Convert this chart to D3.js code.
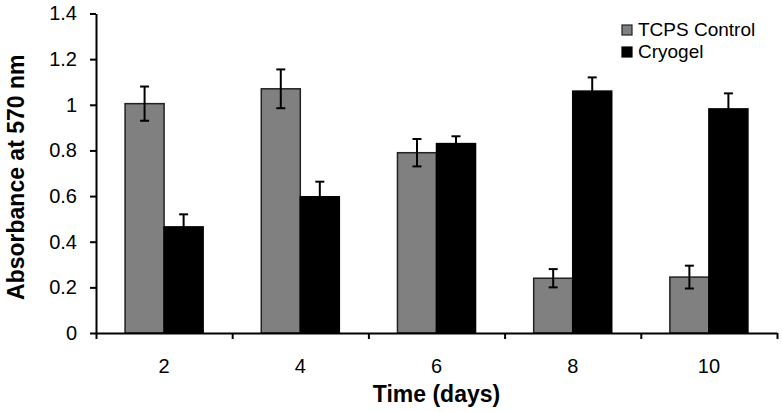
<!DOCTYPE html>
<html>
<head>
<meta charset="utf-8">
<script src="https://cdn.jsdelivr.net/npm/d3@7"></script>
<style>
  body { margin: 0; background: #fff; }
  svg { font-family: "Liberation Sans", Arial, sans-serif; }
  .axis-line path, .axis-line line { stroke: #000; stroke-width: 2; }
  .axis-line text { font-size: 20px; fill: #000; }
  .axis-label { font-size: 23px; font-weight: bold; fill: #000; }
  .legend-text { font-size: 19px; fill: #000; }
</style>
</head>
<body>
<div id="chart"></div>
<script>
// values
const days = ["2", "4", "6", "8", "10"];
const series = ["TCPS Control", "Cryogel"];
const tcps = [1.005, 1.07, 0.79, 0.24, 0.245];
const tcpsErr = [0.075, 0.085, 0.06, 0.04, 0.05];
const cryogel = [0.465, 0.597, 0.83, 1.06, 0.982];
const cryogelErr = [0.055, 0.066, 0.032, 0.06, 0.068];
const yTicks = [0, 0.2, 0.4, 0.6, 0.8, 1, 1.2, 1.4];

const width = 782, height = 412;
const plotLeft = 96, plotRight = 777, plotBottom = 333, plotTop = 13.5;
const colors = {"TCPS Control": "#808080", "Cryogel": "#000000"};
const strokes = {"TCPS Control": "#222222", "Cryogel": "#000000"};

const svg = d3.select("#chart").append("svg")
    .attr("width", width)
    .attr("height", height);

// scales
const x0 = d3.scaleBand().domain(days).range([plotLeft, plotRight]).padding(0);
const x1 = d3.scaleBand().domain(series).range([0, x0.bandwidth()]).paddingInner(0).paddingOuter(0.745);
const xb = d3.scaleLinear().domain([0, days.length]).range([plotLeft, plotRight]);
const y = d3.scaleLinear().domain([0, 1.4]).range([plotBottom, plotTop]);

const rows = days.map((d, i) => ({
    day: d,
    vals: [
        {key: "TCPS Control", v: tcps[i], e: tcpsErr[i]},
        {key: "Cryogel", v: cryogel[i], e: cryogelErr[i]}
    ]
}));

// bars
const groups = svg.selectAll(".grp").data(rows).enter().append("g")
    .attr("class", "grp")
    .attr("transform", d => "translate(" + x0(d.day) + ",0)");

groups.selectAll("rect").data(d => d.vals).enter().append("rect")
    .attr("x", d => x1(d.key))
    .attr("y", d => y(d.v))
    .attr("width", x1.bandwidth())
    .attr("height", d => y(0) - y(d.v))
    .style("fill", d => colors[d.key])
    .style("stroke", d => strokes[d.key])
    .style("stroke-width", 1.5);

// error bars
const cap = 4.5;
const err = groups.selectAll(".err").data(d => d.vals).enter().append("g")
    .attr("class", "err")
    .attr("transform", d => "translate(" + (x1(d.key) + x1.bandwidth() / 2) + ",0)")
    .style("stroke", "#000")
    .style("stroke-width", 2);
err.append("line")
    .attr("x1", 0).attr("x2", 0)
    .attr("y1", d => y(d.v - d.e)).attr("y2", d => y(d.v + d.e));
err.append("line")
    .attr("x1", -cap).attr("x2", cap)
    .attr("y1", d => y(d.v + d.e)).attr("y2", d => y(d.v + d.e));
err.append("line")
    .attr("x1", -cap).attr("x2", cap)
    .attr("y1", d => y(d.v - d.e)).attr("y2", d => y(d.v - d.e));

// y axis
svg.append("g")
    .attr("class", "axis-line")
    .attr("transform", "translate(" + plotLeft + ",0)")
    .call(d3.axisLeft(y).tickValues(yTicks).tickSize(6).tickSizeOuter(0).tickPadding(13).tickFormat(d => String(d)));

// x axis: ticks between the groups
svg.append("g")
    .attr("class", "axis-line")
    .attr("transform", "translate(0," + plotBottom + ")")
    .call(d3.axisBottom(xb).tickValues(d3.range(days.length + 1)).tickSize(6).tickSizeOuter(0).tickFormat(""));

// x labels at group centres
svg.append("g")
    .attr("class", "axis-line")
    .attr("transform", "translate(0," + plotBottom + ")")
    .call(d3.axisBottom(x0).tickSize(0).tickPadding(26))
    .call(g => g.select(".domain").remove());

// axis titles
svg.append("text")
    .attr("class", "axis-label")
    .attr("x", (plotLeft + plotRight) / 2)
    .attr("y", 402)
    .style("text-anchor", "middle")
    .text("Time (days)");

svg.append("text")
    .attr("class", "axis-label")
    .attr("transform", "translate(24," + ((plotTop + plotBottom) / 2 + 4) + ") rotate(-90)")
    .style("text-anchor", "middle")
    .text("Absorbance at 570 nm");

// legend
const legend = svg.selectAll(".legend").data(series).enter().append("g")
    .attr("class", "legend")
    .attr("transform", (d, i) => "translate(622," + (25 + i * 22) + ")");
legend.append("rect")
    .attr("width", 10).attr("height", 10)
    .style("fill", d => colors[d])
    .style("stroke", d => strokes[d])
    .style("stroke-width", 1.2);
legend.append("text")
    .attr("class", "legend-text")
    .attr("x", 16)
    .attr("y", 11)
    .text(d => d);
</script>
</body>
</html>
